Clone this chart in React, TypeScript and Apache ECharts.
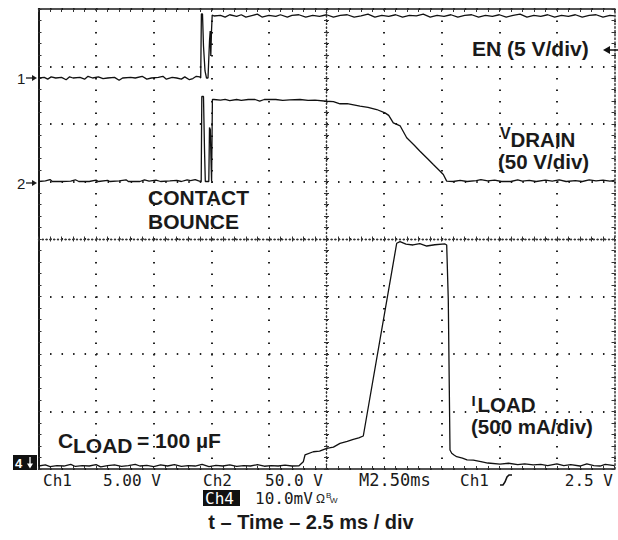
import React, { useEffect, useRef } from "react";
import * as echarts from "echarts";

// ---- Data (time in ms, 2.5 ms/div, 10 divisions) ----
const timeMinMs = 0;
const timeMaxMs = 25;
const timeDivMs = 2.5;

// Channel 1: EN, volts (5 V/div)
const enAxisRange = [-34, 6];
const enTrace: [number, number][] = [
  [0, 0], [0.25, 0.05], [0.4, -0.1], [0.55, 0.1], [0.75, 0], [1.0, 0.05], [1.2, -0.15], [1.35, 0.1],
  [1.5, 0], [1.8, 0.05], [2.0, -0.1], [2.15, 0.15], [2.35, 0], [2.6, 0.1], [2.8, -0.05], [3.0, 0],
  [3.3, 0.05], [3.5, -0.2], [3.65, 0], [4.0, 0.05], [4.2, 0.0], [4.5, 0.15], [4.7, -0.1], [4.9, 0],
  [5.2, 0.05], [5.4, 0.15], [5.55, -0.1], [5.8, 0.05], [6.0, 0], [6.2, -0.1], [6.35, 0.1], [6.55, -0.15],
  [6.7, -0.05], [6.85, 0.15], [7.0, 0.1], [7.04, 0],
  [7.07, 5.57], [7.118, 5.57], [7.161, 2.78], [7.227, 0.61], [7.292, 0], [7.357, 0], [7.422, 3.22],
  [7.452, 4.09], [7.478, 1.91], [7.509, 4.09], [7.539, 5.48], [7.617, 5.39],
  [7.9, 5.45], [8.1, 5.3], [8.3, 5.5], [8.6, 5.35], [8.8, 5.5], [9.0, 5.3], [9.3, 5.45], [9.5, 5.55],
  [9.7, 5.3], [10.0, 5.45], [10.3, 5.35], [10.5, 5.5], [10.8, 5.3], [11.0, 5.45], [11.3, 5.5], [11.6, 5.3],
  [11.9, 5.45], [12.2, 5.35], [12.5, 5.5], [12.8, 5.3], [13.1, 5.45], [13.4, 5.5], [13.7, 5.3], [14.0, 5.4],
  [14.3, 5.55], [14.6, 5.3], [14.9, 5.45], [15.2, 5.35], [15.5, 5.5], [15.8, 5.3], [16.1, 5.45], [16.4, 5.4],
  [16.7, 5.55], [17.0, 5.3], [17.3, 5.45], [17.6, 5.35], [17.9, 5.5], [18.2, 5.3], [18.5, 5.45], [18.8, 5.5],
  [19.1, 5.3], [19.4, 5.45], [19.7, 5.35], [20.0, 5.5], [20.3, 5.3], [20.6, 5.45], [20.9, 5.55], [21.2, 5.3],
  [21.5, 5.45], [21.8, 5.35], [22.1, 5.5], [22.4, 5.3], [22.7, 5.45], [23.0, 5.35], [23.3, 5.5], [23.6, 5.3],
  [23.9, 5.45], [24.2, 5.5], [24.5, 5.3], [24.8, 5.45], [25, 5.4],
];

// Channel 2: VDRAIN, volts (50 V/div)
const vdrainAxisRange = [-250, 150];
const vdrainTrace: [number, number][] = [
  [0, 0], [0.3, 0.5], [0.5, 1.7], [0.6, 0], [1.0, 0], [1.4, 0.3], [1.6, 1.5], [1.75, 0], [2.2, 0],
  [2.5, 1.2], [2.6, 0], [3.0, 1.0], [3.1, 0], [3.5, 0.5], [3.8, 1.5], [3.9, 0], [4.4, 0], [4.6, 1.4],
  [4.8, 0.3], [5.1, 1.2], [5.3, 0], [5.7, 0.5], [6.0, 1.0], [6.2, 0], [6.45, 1.5], [6.6, 0.8], [6.8, 1.7],
  [6.95, 0.5], [7.062, 0],
  [7.088, 73.9], [7.161, 73.9], [7.205, 27.8], [7.24, 0], [7.391, 0], [7.422, 47.0], [7.457, 45.2],
  [7.487, 19.1], [7.513, 0], [7.548, 71.3], [7.617, 71.3],
  [7.9, 70.8], [8.1, 71.5], [8.3, 70.4], [8.6, 71.3], [8.8, 70.5], [9.1, 71.3], [9.4, 71.3], [9.6, 69.8],
  [9.8, 71.3], [10.3, 71.3], [10.6, 70.6], [10.9, 71.0], [11.35, 71.3], [11.7, 70.5], [12.0, 70.8],
  [12.5, 69.8], [12.8, 69.5], [13.086, 67.6], [13.4, 67.8], [13.954, 65.5], [14.3, 64.5], [14.679, 62.6],
  [15.039, 59.7], [15.2, 57.5], [15.399, 51.0], [15.7, 48.3], [15.981, 38.0], [16.3, 31.8], [16.558, 26.3],
  [16.9, 19.5], [17.136, 14.8], [17.4, 9.6], [17.57, 6.1], [17.717, 0.3],
  [18.0, 0], [18.3, 1.0], [18.6, 0], [19.0, 0.8], [19.2, 1.6], [19.5, 0.5], [19.8, 1.2], [20.1, 0],
  [20.5, 0], [20.8, 1.5], [21.0, 0.4], [21.3, 1.0], [21.6, 0], [22.0, 1.2], [22.3, 0.3], [22.6, 1.5],
  [22.9, 0], [23.3, 0.8], [23.6, 0], [23.9, 1.4], [24.2, 0.5], [24.5, 1.2], [24.8, 0.3], [25, 1.0],
];

// Channel 4: ILOAD, milliamps (500 mA/div)
const iloadAxisRange = [0, 4000];
const iloadTrace: [number, number][] = [
  [0, 26], [0.3, 35], [0.5, 20], [0.8, 30], [1.1, 26], [1.4, 40], [1.6, 22], [1.9, 30], [2.2, 26],
  [2.5, 38], [2.7, 18], [3.0, 30], [3.3, 35], [3.6, 22], [3.9, 30], [4.2, 40], [4.4, 26], [4.7, 32],
  [5.0, 20], [5.3, 35], [5.6, 26], [5.9, 38], [6.2, 22], [6.5, 30], [6.8, 26], [7.1, 40], [7.4, 20],
  [7.7, 32], [8.0, 26], [8.3, 36], [8.6, 22], [8.9, 30], [9.2, 26], [9.5, 38], [9.8, 24], [10.1, 30],
  [10.4, 26], [10.7, 34], [11.0, 26], [11.307, 28], [11.493, 63], [11.567, 122], [11.927, 150],
  [12.2, 155], [12.509, 180], [12.8, 190], [13.086, 223], [13.4, 240], [13.663, 258], [13.9, 270],
  [14.097, 287], [15.547, 1963], [15.69, 1977], [15.95, 1955], [16.254, 1948], [16.55, 1960],
  [16.849, 1939], [17.2, 1950], [17.643, 1957], [17.717, 1948], [17.786, 1470], [17.86, 165],
  [17.934, 137], [18.05, 120], [18.151, 107], [18.4, 95], [18.6, 80], [18.872, 78], [19.2, 65],
  [19.5, 52], [20.03, 43], [20.4, 50], [20.8, 38], [21.1, 45], [21.476, 35], [21.8, 40], [22.1, 30],
  [22.5, 45], [22.8, 30], [23.1, 38], [23.5, 26], [23.8, 45], [24.1, 30], [24.371, 26], [24.6, 40], [25, 30],
];

// Screen graticule: 8 vertical divisions
const screenDivs = [0, 8];

// Scope readout texts
const readoutRow1 = ["Ch1", "5.00 V", "Ch2", "50.0 V", "M2.50ms", "Ch1"];
const readoutTrigLevel = "2.5 V";
const readoutCh4 = ["Ch4", "10.0mV", "Ω", "BW"];
const axisTitle = "t – Time – 2.5 ms / div";

const SANS = "'Liberation Sans', Arial, Helvetica, sans-serif";
const MONO = "'DejaVu Sans Mono', monospace";
const INK = "#1a1a1a";

function txt(text: string, x: number, y: number, size: number, opts: any = {}) {
  const align = opts.align || "left";
  return {
    type: "text",
    x,
    y,
    silent: true,
    z: 100,
    style: {
      text,
      fontSize: size,
      fontWeight: opts.weight || "bold",
      fontFamily: opts.family || SANS,
      fill: opts.fill || INK,
      lineHeight: opts.lineHeight || Math.round(size * 0.85),
      align,
      textAlign: align,
      verticalAlign: "middle",
      textVerticalAlign: "middle",
    },
  };
}

function arrowRight(x1: number, x2: number, y: number, color = INK) {
  return [
    { type: "line", shape: { x1, y1: y, x2: x2 - 3, y2: y }, style: { stroke: color, lineWidth: 1.3 }, z: 100, silent: true },
    { type: "polygon", shape: { points: [[x2, y], [x2 - 5, y - 3], [x2 - 5, y + 3]] }, style: { fill: color }, z: 100, silent: true },
  ];
}

const dotted = (period: number) => [1.5, period - 1.5];

export default function App() {
  const ref = useRef<HTMLDivElement>(null);

  useEffect(() => {
    if (!ref.current) return;
    const chart = echarts.init(ref.current, null, { renderer: "svg" });

    const gridLine = { color: "#222", width: 2, type: dotted(11.52) };
    const gridLineV = { color: "#222", width: 2, type: dotted(11.5) };
    const borderStyle = { color: INK, width: 1.5 };
    const tick = (inside: boolean, len = 3) => ({
      axisTick: { show: true, inside, length: len, lineStyle: { color: "#333", width: 1 } },
      minorTick: { show: true, splitNumber: 5, length: len, lineStyle: { color: "#333", width: 1 } },
    });
    const noLabel = { show: false };

    const centerX = (inside: boolean) => ({
      type: "value",
      min: -(timeMaxMs - timeMinMs) / 2,
      max: (timeMaxMs - timeMinMs) / 2,
      interval: timeDivMs,
      position: "bottom",
      axisLine: { show: true, onZero: true, onZeroAxisIndex: 2, lineStyle: { color: "#333", width: 1.3, type: [1, 2.8] } },
      ...tick(inside, 2.5),
      axisLabel: noLabel,
      splitLine: { show: false },
    });
    const centerY = (inside: boolean) => ({
      type: "value",
      min: -(screenDivs[1] - screenDivs[0]) / 2,
      max: (screenDivs[1] - screenDivs[0]) / 2,
      interval: 1,
      position: "left",
      axisLine: { show: true, onZero: true, onZeroAxisIndex: 2, lineStyle: { color: "#333", width: 1.3, type: [1, 2.8] } },
      ...tick(inside, 2.5),
      axisLabel: noLabel,
      splitLine: { show: false },
    });
    const hiddenY = (range: number[]) => ({
      type: "value",
      min: range[0],
      max: range[1],
      show: false,
      axisLine: { onZero: false },
      splitLine: { show: false },
    });

    const traceStyle = { color: "#111", width: 1.3 };
    const mono = (extra: any = {}) => ({ weight: "normal", family: MONO, lineHeight: 13, ...extra });

    const option: any = {
      animation: false,
      backgroundColor: "#ffffff",
      grid: { left: 38.5, top: 9, width: 576, height: 460, show: false, containLabel: false },
      xAxis: [
        {
          type: "value", min: timeMinMs, max: timeMaxMs, interval: timeDivMs, position: "bottom",
          axisLine: { show: true, onZero: false, lineStyle: borderStyle },
          ...tick(true),
          axisLabel: noLabel,
          splitLine: { show: true, lineStyle: gridLineV },
        },
        {
          type: "value", min: timeMinMs, max: timeMaxMs, interval: timeDivMs, position: "top",
          axisLine: { show: true, onZero: false, lineStyle: borderStyle },
          ...tick(true),
          axisLabel: noLabel,
          splitLine: { show: false },
        },
        centerX(true),
        centerX(false),
      ],
      yAxis: [
        {
          type: "value", min: screenDivs[0], max: screenDivs[1], interval: 1, position: "left",
          axisLine: { show: true, onZero: false, lineStyle: { color: INK, width: 2 } },
          ...tick(true),
          axisLabel: noLabel,
          splitLine: { show: true, lineStyle: gridLine },
        },
        {
          type: "value", min: screenDivs[0], max: screenDivs[1], interval: 1, position: "right",
          axisLine: { show: true, onZero: false, lineStyle: { color: "#333", width: 1.5, type: [1.5, 2.3] } },
          ...tick(true),
          axisLabel: noLabel,
          splitLine: { show: false },
        },
        {
          type: "value", min: -4, max: 4, interval: 1, position: "left",
          axisLine: { show: false, onZero: false }, axisTick: { show: false }, axisLabel: noLabel,
          splitLine: { show: false },
        },
        hiddenY(enAxisRange),
        hiddenY(vdrainAxisRange),
        hiddenY(iloadAxisRange),
        centerY(true),
        centerY(false),
      ],
      series: [
        { name: "EN", type: "line", xAxisIndex: 0, yAxisIndex: 3, data: enTrace, showSymbol: false, lineStyle: traceStyle, z: 10 },
        { name: "VDRAIN", type: "line", xAxisIndex: 0, yAxisIndex: 4, data: vdrainTrace, showSymbol: false, lineStyle: traceStyle, z: 10 },
        { name: "ILOAD", type: "line", xAxisIndex: 0, yAxisIndex: 5, data: iloadTrace, showSymbol: false, lineStyle: traceStyle, z: 10 },
      ],
      graphic: [
        // annotations
        txt("EN (5 V/div)", 472, 48.5, 21),
        txt("V", 500, 133, 16),
        txt("DRAIN", 510.5, 139, 20.5),
        txt("(50 V/div)", 498, 161, 20.5),
        txt("CONTACT", 148, 197, 21),
        txt("BOUNCE", 148, 221, 21),
        txt("I", 471.5, 400.5, 15),
        txt("LOAD", 477.5, 404, 20.5),
        txt("(500 mA/div)", 471, 426, 20.5),
        txt("C", 58, 440.5, 21),
        txt("LOAD", 73, 445.5, 21),
        txt("= 100 µF", 137, 440.5, 21),
        // channel markers
        txt("1", 17, 78, 15, { weight: "normal" }),
        ...arrowRight(26, 37, 78),
        txt("2", 17, 183, 15, { weight: "normal" }),
        ...arrowRight(26, 37, 183),
        { type: "rect", shape: { x: 13, y: 455, width: 24, height: 15 }, style: { fill: "#111" }, z: 99, silent: true },
        txt("4", 15, 463, 13, { fill: "#fff", lineHeight: 12 }),
        { type: "line", shape: { x1: 30, y1: 457, x2: 30, y2: 465 }, style: { stroke: "#fff", lineWidth: 1.3 }, z: 100, silent: true },
        { type: "polygon", shape: { points: [[30, 468.5], [27, 463.5], [33, 463.5]] }, style: { fill: "#fff" }, z: 100, silent: true },
        // trigger level arrow (right edge)
        { type: "line", shape: { x1: 607, y1: 50, x2: 618, y2: 50 }, style: { stroke: "#111", lineWidth: 1.5 }, z: 100, silent: true },
        { type: "polygon", shape: { points: [[603, 50], [610, 46], [610, 54]] }, style: { fill: "#111" }, z: 100, silent: true },
        // scope readout
        txt(readoutRow1[0], 43, 480, 16, mono()),
        txt(readoutRow1[1], 103, 480, 16, mono()),
        txt(readoutRow1[2], 203, 480, 16, mono()),
        txt(readoutRow1[3], 265, 480, 16, mono()),
        txt(readoutRow1[4], 359, 480, 17, mono()),
        txt(readoutRow1[5], 460, 480, 16, mono()),
        {
          type: "polyline",
          shape: { points: [[500, 485], [503, 485], [505, 482], [507, 477], [509, 475], [512, 475]] },
          style: { stroke: "#111", lineWidth: 1.6, fill: null },
          z: 100, silent: true,
        },
        txt(readoutTrigLevel, 613, 480, 16, mono({ align: "right" })),
        { type: "rect", shape: { x: 203, y: 490, width: 37, height: 16 }, style: { fill: "#111" }, z: 99, silent: true },
        txt(readoutCh4[0], 205, 498.5, 16, mono({ fill: "#fff" })),
        txt(readoutCh4[1], 255, 498.5, 16, mono()),
        txt(readoutCh4[2], 316, 499, 12, { weight: "normal", family: SANS, lineHeight: 11 }),
        txt(readoutCh4[3][0], 326, 495, 8, { weight: "normal", family: SANS, lineHeight: 7 }),
        txt(readoutCh4[3][1], 330, 500, 8, { weight: "normal", family: SANS, lineHeight: 7 }),
        // axis title
        txt(axisTitle, 311, 522, 20, { align: "center" }),
      ],
    };

    chart.setOption(option);
    return () => chart.dispose();
  }, []);

  return (
    <div
      ref={ref}
      style={{ position: "absolute", left: 0, top: 0, width: 618, height: 540, background: "#fff" }}
    />
  );
}
